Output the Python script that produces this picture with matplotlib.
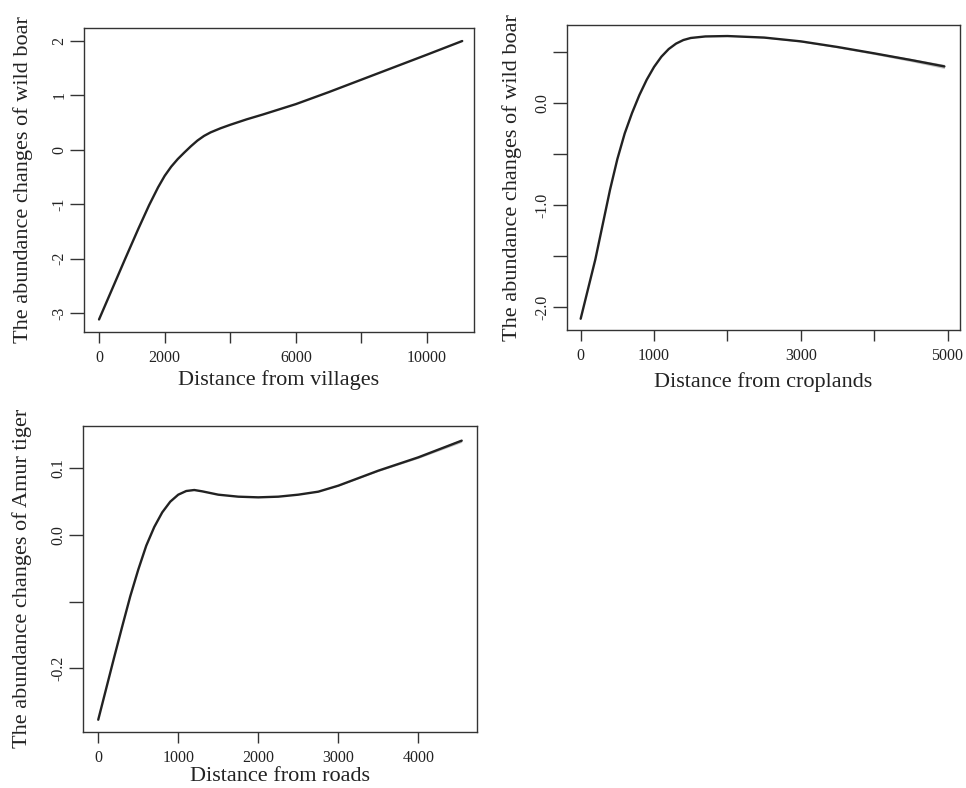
import matplotlib
matplotlib.use("Agg")
import matplotlib.pyplot as plt
import numpy as np

plt.rcParams['font.family'] = ['Liberation Serif', 'DejaVu Serif']

# panel 1: wild boar vs distance from villages
vil_x = [0, 400, 800, 1200, 1525, 1800, 2000, 2200, 2400, 2600, 2800, 3000, 3200,
         3400, 3700, 4000, 4500, 5000, 6000, 7000, 8000, 9000, 10000, 11070]
vil_y = [-3.12, -2.56, -2.0, -1.45, -1.02, -0.69, -0.48, -0.31, -0.17, -0.05, 0.065,
         0.17, 0.255, 0.32, 0.395, 0.46, 0.56, 0.65, 0.84, 1.06, 1.29, 1.52, 1.75, 2.0]
vil_se = [0.0] * 24

# panel 2: wild boar vs distance from croplands
crop_x = [0, 100, 200, 300, 400, 500, 600, 700, 800, 900, 1000, 1100, 1200, 1300,
          1400, 1500, 1700, 2000, 2500, 3000, 3500, 4000, 4500, 4957]
crop_y = [-2.11, -1.82, -1.53, -1.19, -0.85, -0.55, -0.3, -0.1, 0.075, 0.225, 0.35,
          0.45, 0.525, 0.578, 0.613, 0.633, 0.648, 0.652, 0.637, 0.60, 0.545, 0.483,
          0.418, 0.355]
crop_se = [0.0] * 18 + [0.004, 0.006, 0.008, 0.011, 0.015, 0.02]

# panel 3: Amur tiger vs distance from roads
road_x = [0, 100, 200, 300, 400, 500, 600, 700, 800, 900, 1000, 1100, 1200, 1300,
          1500, 1750, 2000, 2250, 2500, 2750, 3000, 3500, 4000, 4542]
road_y = [-0.277, -0.23, -0.183, -0.137, -0.092, -0.052, -0.016, 0.012, 0.034, 0.05,
          0.0605, 0.066, 0.0675, 0.0655, 0.0605, 0.0575, 0.0565, 0.0575, 0.0605,
          0.065, 0.074, 0.0965, 0.1165, 0.1415]
road_se = [0.0] * 20 + [0.0005, 0.001, 0.0015, 0.0025]

panels = [
    dict(pos=[0.087, 0.5787, 0.4037, 0.3858], x=vil_x, y=vil_y, se=vil_se,
         xlim=(-457, 11430), ylim=(-3.35, 2.24),
         xticks=[0, 2000, 4000, 6000, 8000, 10000],
         xtl=['0', '2000', '', '6000', '', '10000'],
         yticks=[-3, -2, -1, 0, 1, 2], ytl=['-3', '-2', '-1', '0', '1', '2'],
         xlabel='Distance from villages', ylabel='The abundance changes of wild boar',
         xlc=-0.125, ylc=-0.131),
    dict(pos=[0.5866, 0.5812, 0.4072, 0.3871], x=crop_x, y=crop_y, se=crop_se,
         xlim=(-191, 5170), ylim=(-2.22, 0.76),
         xticks=[0, 1000, 2000, 3000, 4000, 5000],
         xtl=['0', '1000', '', '3000', '', '5000'],
         yticks=[-2.0, -1.5, -1.0, -0.5, 0.0, 0.5],
         ytl=['-2.0', '', '-1.0', '', '0.0', ''],
         xlabel='Distance from croplands', ylabel='The abundance changes of wild boar',
         xlc=-0.137, ylc=-0.114),
    dict(pos=[0.0862, 0.0714, 0.4073, 0.3880], x=road_x, y=road_y, se=road_se,
         xlim=(-187, 4730), ylim=(-0.295, 0.1635),
         xticks=[0, 1000, 2000, 3000, 4000],
         xtl=['0', '1000', '2000', '3000', '4000'],
         yticks=[-0.2, -0.1, 0.0, 0.1], ytl=['-0.2', '', '0.0', '0.1'],
         xlabel='Distance from roads', ylabel='The abundance changes of Amur tiger',
         xlc=-0.115, ylc=-0.131),
]

fig = plt.figure(figsize=(9.66, 7.88), dpi=100)

for p in panels:
    ax = fig.add_axes(p['pos'])
    x = np.array(p['x'])
    y = np.array(p['y'])
    se = np.array(p['se'])
    ax.fill_between(x, y - se, y + se, color='0.75', lw=0)
    ax.plot(x, y, color='#222222', lw=1.7, solid_capstyle='round',
            solid_joinstyle='round')
    ax.set_xlim(*p['xlim'])
    ax.set_ylim(*p['ylim'])
    ax.set_xticks(p['xticks'])
    ax.set_xticklabels(p['xtl'])
    ax.set_yticks(p['yticks'])
    ax.set_yticklabels(p['ytl'], rotation=90, va='center')
    ax.tick_params(axis='both', direction='out', width=1.0,
                   color='#333333', labelsize=11.5, labelcolor='#222222')
    ax.tick_params(axis='x', length=8, pad=5)
    ax.tick_params(axis='y', length=10, pad=2)
    for s in ax.spines.values():
        s.set_linewidth(1.0)
        s.set_color('#333333')
    ax.set_xlabel(p['xlabel'], fontsize=16, color='#222222')
    ax.set_ylabel(p['ylabel'], fontsize=16, color='#222222')
    ax.xaxis.set_label_coords(0.5, p['xlc'])
    ax.yaxis.set_label_coords(p['ylc'], 0.5)

fig.savefig('out.png', dpi=100)
